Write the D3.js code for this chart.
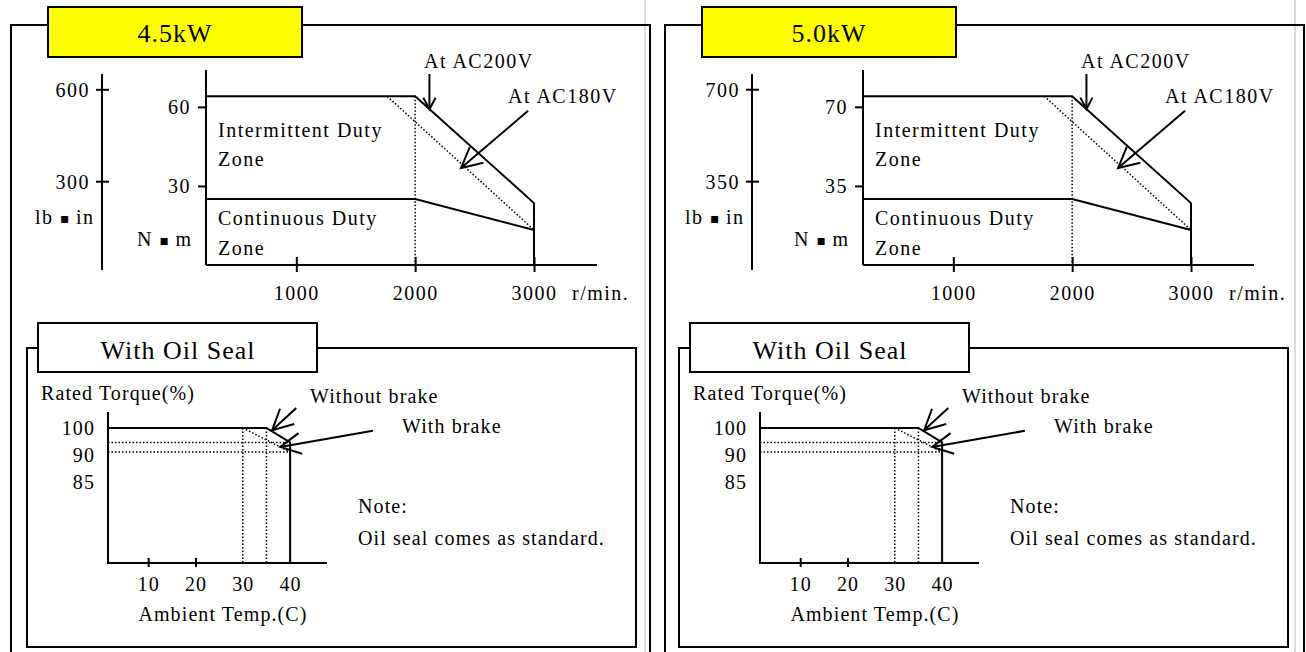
<!DOCTYPE html>
<html>
<head>
<meta charset="utf-8">
<script src="https://cdn.jsdelivr.net/npm/d3@7"></script>
<style>
  body { margin: 0; background: #fff; }
  svg { display: block; font-family: "Liberation Serif", "Times New Roman", serif; }
  .big { font-size: 26px; letter-spacing: 1px; }
  .lbl { font-size: 20px; letter-spacing: 1.5px; }
  .sm { font-size: 20px; letter-spacing: 1.1px; }
  .sq { font-family: "DejaVu Sans", sans-serif; font-size: 14px; letter-spacing: 0; }
  .solid { fill: none; stroke: #000; stroke-width: 2; }
  .dot { fill: none; stroke: #000; stroke-width: 1.5; stroke-dasharray: 1.5,2; }
</style>
</head>
<body>
<svg id="chart" width="1306" height="652"></svg>
<script>
// torque / speed chart, one per motor rating
const ratings = ["4.5kW", "5.0kW"]
const nmTicks = [[30, 60], [35, 70]]
const nmTop = [74, 86.3]
const lbTicks = [[300, 600], [350, 700]]
const lbRange = [[10, 650], [11.7, 758]]
const speedTicks = [1000, 2000, 3000]
const speedRange = [240, 3530]
const dutySpeed = [240, 2000, 3000]
const intermittentTorque = [[64, 64, 23.5], [74.7, 74.7, 27.4]]
const continuousTorque = [[25, 25, 13.3], [29.2, 29.2, 15.5]]
const ac180Speed = [1765, 3000]
const ac180Torque = [[64, 13.3], [74.7, 15.5]]
const ac200Arrow = [[[2120, 72.5], [2120, 59.1]], [[2120, 84.6], [2120, 69]]]
const ac180Arrow = [[[2950, 58.5], [2386, 36.8]], [[2950, 68.3], [2386, 42.9]]]

// oil seal derating chart (same in both panels)
const tempTicks = [10, 20, 30, 40]
const tempMarks = [10, 20]
const tempRange = [1.5, 47.8]
const ratedRange = [44, 106.6]
const ratedLabels = ["100", "90", "85"]
const noBrakeTemp = [1.5, 35, 40, 40]
const noBrakeRated = [100, 100, 94, 44]
const brakeTemp = [30, 40]
const brakeRated = [100, 90]
const noBrakeArrow = [[41.3, 108.3], [36.2, 99]]
const brakeArrow = [[57.5, 98.8], [37.9, 92.1]]

const svg = d3.select("#chart")

const panelX = [0, 654]
const chartShift = [0, 3]
const lbShift = [0, -4]
const bottomShift = [0, -2]
const grayX = [645, 1295]

function arrow(g, tail, tip, len, ang) {
  let a = Math.atan2(tail[1] - tip[1], tail[0] - tip[0]),
      r = ang * Math.PI / 180
  let head = [
    [tip[0] + len * Math.cos(a - r), tip[1] + len * Math.sin(a - r)],
    tip,
    [tip[0] + len * Math.cos(a + r), tip[1] + len * Math.sin(a + r)]
  ]
  g.append("path").classed("solid", true).attr("d", d3.line()([tail, tip]))
  g.append("path").classed("solid", true).attr("d", d3.line()(head))
}

function drawPanel(i) {
  let ox = panelX[i],
      cx = ox + chartShift[i],
      lx = ox + lbShift[i],
      bx = ox + bottomShift[i]

  // faint edge line
  svg.append("line")
      .attr("x1", grayX[i]).attr("x2", grayX[i])
      .attr("y1", 0).attr("y2", 652)
      .style("stroke", "#cfcfcf").style("stroke-width", 1.5)

  // frame + yellow title
  svg.append("path").classed("solid", true)
      .attr("d", `M${48 + ox},25 H${11 + ox} V660 M${302 + ox},25 H${650 + ox} V660`)
  svg.append("rect")
      .attr("x", 48 + ox).attr("y", 7).attr("width", 254).attr("height", 50)
      .style("fill", "#ffff00").style("stroke", "#000").style("stroke-width", 2)
  svg.append("text").classed("big", true)
      .attr("x", 175 + ox).attr("y", 42).attr("text-anchor", "middle")
      .text(ratings[i])

  // ---- torque chart ----
  let x = d3.scaleLinear().domain(speedRange).range([206 + cx, 597 + cx])
  let y = d3.scaleLinear().domain([0, nmTop[i]]).range([265, 70])
  let lb = d3.scaleLinear().domain(lbRange[i]).range([270, 74])

  let line = d3.line().x(d => x(d[0])).y(d => y(d[1]))

  // lb.in axis
  let gl = svg.append("g").attr("transform", `translate(${102 + lx},0)`)
      .call(d3.axisLeft(lb).tickValues(lbTicks[i]).tickSize(6).tickPadding(6))
  gl.select(".domain").remove()
  gl.selectAll(".tick line").attr("x1", 7).style("stroke-width", 2)
  gl.selectAll(".tick text").attr("class", "lbl").attr("dy", "0.35em")
  gl.append("line").attr("y1", lb.range()[0]).attr("y2", lb.range()[1])
      .style("stroke", "#000").style("stroke-width", 2)
  gl.attr("font-family", null).attr("font-size", null)
  svg.append("text").classed("lbl", true)
      .attr("x", 35 + lx).attr("y", 224)
      .html('lb <tspan class="sq" dy="-1">\u25aa</tspan><tspan dy="1"> in</tspan>')

  // N.m axis
  let gy = svg.append("g").attr("transform", `translate(${206 + cx},0)`)
      .call(d3.axisLeft(y).tickValues(nmTicks[i]).tickSize(8).tickPadding(7))
  gy.select(".domain").remove()
  gy.selectAll(".tick line").style("stroke-width", 2)
  gy.selectAll(".tick text").attr("class", "lbl").attr("dy", "0.35em")
  gy.append("line").attr("y1", y(0)).attr("y2", y.range()[1])
      .style("stroke", "#000").style("stroke-width", 2)
  gy.attr("font-family", null).attr("font-size", null)
  svg.append("text").classed("lbl", true)
      .attr("x", 137 + cx).attr("y", 246)
      .html('N <tspan class="sq" dy="-1">\u25aa</tspan><tspan dy="1"> m</tspan>')

  // speed axis
  let gx = svg.append("g").attr("transform", `translate(0,${y(0)})`)
      .call(d3.axisBottom(x).tickValues(speedTicks).tickSize(7).tickFormat(d3.format("d")))
  gx.select(".domain").remove()
  gx.selectAll(".tick line").attr("y1", -8).style("stroke-width", 2)
  gx.selectAll(".tick text").attr("class", "lbl").attr("dy", null).attr("y", 35)
  gx.append("line").attr("x1", x.range()[0]).attr("x2", x.range()[1])
      .style("stroke", "#000").style("stroke-width", 2)
  gx.attr("font-family", null).attr("font-size", null)
  svg.append("text").classed("lbl", true)
      .attr("x", x(speedTicks[2]) + 38).attr("y", y(0) + 35).text("r/min.")

  // zones
  let inter = dutySpeed.map((s, k) => [s, intermittentTorque[i][k]])
  inter.push([dutySpeed[2], 0])
  let cont = dutySpeed.map((s, k) => [s, continuousTorque[i][k]])
  let low = ac180Speed.map((s, k) => [s, ac180Torque[i][k]])

  svg.append("path").classed("dot", true)
      .attr("d", line([[dutySpeed[1], intermittentTorque[i][1]], [dutySpeed[1], 0]]))
  svg.append("path").classed("dot", true).attr("d", line(low))
  svg.append("path").classed("solid", true).attr("d", line(inter))
  svg.append("path").classed("solid", true).attr("d", line(cont))

  let zl = [["Intermittent Duty", 137], ["Zone", 166], ["Continuous Duty", 225], ["Zone", 255]]
  zl.forEach(z => {
    svg.append("text").classed("lbl", true)
        .attr("x", 218 + cx).attr("y", z[1]).text(z[0])
  })

  let ga = svg.append("g")
  arrow(ga, ac200Arrow[i][0].map((v, k) => k ? y(v) : x(v)),
      ac200Arrow[i][1].map((v, k) => k ? y(v) : x(v)), 13, 28)
  arrow(ga, ac180Arrow[i][0].map((v, k) => k ? y(v) : x(v)),
      ac180Arrow[i][1].map((v, k) => k ? y(v) : x(v)), 23, 27)
  svg.append("text").classed("lbl", true).attr("x", 424 + cx).attr("y", 68).text("At AC200V")
  svg.append("text").classed("lbl", true).attr("x", 508 + cx).attr("y", 103).text("At AC180V")

  // ---- oil seal box ----
  svg.append("path").classed("solid", true)
      .attr("d", `M${38 + bx},348 H${27 + bx} V647 H${636 + bx} V348 H${317 + bx}`)
  svg.append("rect")
      .attr("x", 38 + bx).attr("y", 323).attr("width", 279).attr("height", 49)
      .style("fill", "#fff").style("stroke", "#000").style("stroke-width", 2)
  svg.append("text").classed("big", true)
      .attr("x", 178 + bx).attr("y", 359).attr("text-anchor", "middle")
      .text("With Oil Seal")

  let tx = d3.scaleLinear().domain(tempRange).range([108 + bx, 327 + bx])
  let ty = d3.scaleLinear().domain(ratedRange).range([563, 412])
  let rowY = d3.scalePoint().domain(ratedLabels).range([428, 482])
  let tline = d3.line().x(d => tx(d[0])).y(d => ty(d[1]))

  svg.append("text").classed("sm", true)
      .attr("x", 41 + bx).attr("y", 400).text("Rated Torque(%)")
  svg.selectAll(null).data(ratedLabels).enter()
    .append("text").classed("sm", true)
      .attr("x", 95 + bx).attr("y", d => rowY(d)).attr("dy", "0.33em")
      .attr("text-anchor", "end").text(d => d)

  // axes
  svg.append("path").classed("solid", true)
      .attr("d", tline([[tempRange[0], ratedRange[1]], [tempRange[0], ratedRange[0]], [tempRange[1], ratedRange[0]]]))
  let gt = svg.append("g").attr("transform", `translate(0,${ty(ratedRange[0])})`)
      .call(d3.axisBottom(tx).tickValues(tempTicks).tickSize(4))
  gt.select(".domain").remove()
  gt.selectAll(".tick line").attr("y1", -5).style("stroke-width", 2)
      .style("display", d => tempMarks.includes(d) ? null : "none")
  gt.selectAll(".tick text").attr("class", "sm").attr("dy", null).attr("y", 28)
  gt.attr("font-family", null).attr("font-size", null)
  svg.append("text").classed("sm", true)
      .attr("x", 223 + bx).attr("y", 621).attr("text-anchor", "middle")
      .text("Ambient Temp.(C)")

  // guides
  let guides = [
    [[tempRange[0], noBrakeRated[2]], [noBrakeTemp[2], noBrakeRated[2]]],
    [[tempRange[0], brakeRated[1]], [brakeTemp[1], brakeRated[1]]],
    [[brakeTemp[0], brakeRated[0]], [brakeTemp[0], ratedRange[0]]],
    [[noBrakeTemp[1], noBrakeRated[1]], [noBrakeTemp[1], ratedRange[0]]],
    brakeTemp.map((t, k) => [t, brakeRated[k]])
  ]
  guides.forEach(gd => svg.append("path").classed("dot", true).attr("d", tline(gd)))
  svg.append("path").classed("solid", true)
      .attr("d", tline(noBrakeTemp.map((t, k) => [t, noBrakeRated[k]])))

  let gb = svg.append("g")
  arrow(gb, [tx(noBrakeArrow[0][0]), ty(noBrakeArrow[0][1])],
      [tx(noBrakeArrow[1][0]), ty(noBrakeArrow[1][1])], 23, 27)
  arrow(gb, [tx(brakeArrow[0][0]), ty(brakeArrow[0][1])],
      [tx(brakeArrow[1][0]), ty(brakeArrow[1][1])], 23, 27)

  svg.append("text").classed("sm", true).attr("x", 310 + bx).attr("y", 403).text("Without brake")
  svg.append("text").classed("sm", true).attr("x", 402 + bx).attr("y", 433).text("With brake")
  svg.append("text").classed("sm", true).attr("x", 358 + bx).attr("y", 513).text("Note:")
  svg.append("text").classed("sm", true).attr("x", 358 + bx).attr("y", 545).text("Oil seal comes as standard.")
}

drawPanel(0)
drawPanel(1)
</script>
</body>
</html>
